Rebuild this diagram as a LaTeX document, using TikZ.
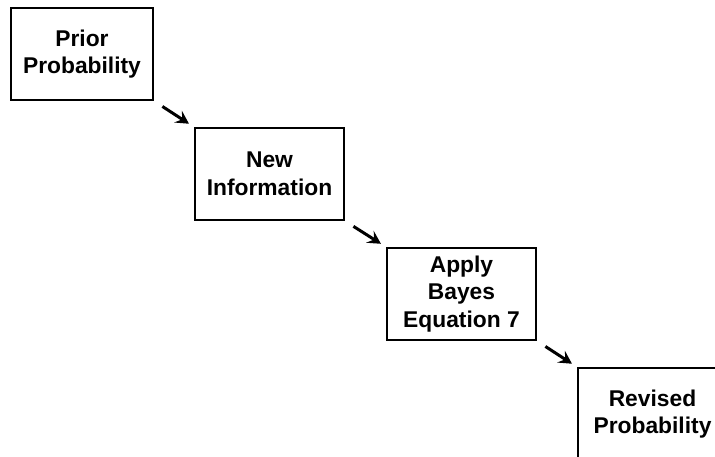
\documentclass[tikz,border=0pt]{standalone}
\usepackage{fontspec}
\setmainfont{Liberation Sans}
\usetikzlibrary{arrows.meta}

\begin{document}
\begin{tikzpicture}[
    x=1pt, y=-1pt,
    >={Stealth[length=13pt, width=14pt, inset=5pt]},
    every node/.style={font=\bfseries\fontsize{22.8}{27.5}\selectfont},
    box/.style={
        draw,
        line width=2pt,
        align=center,
        inner sep=2pt,
        minimum height=92pt
    },
    flow/.style={->, line width=3pt, shorten <=10pt, shorten >=6pt}
]

    % picture frame (the last box runs off the edge)
    \clip (0,0) rectangle (715,457);

    % steps
    \node[box, minimum width=142pt] (prior) at (82,54)
        {Prior\\ Probability};
    \node[box, minimum width=149pt] (newinfo) at (269.5,174)
        {New\\ Information};
    \node[box, minimum width=149pt] (bayes) at (461.5,294)
        {Apply\\ Bayes\\ Equation 7};
    \node[box, minimum width=149pt] (revised) at (652.5,414)
        {Revised\\ Probability};

    % arrows
    \draw[flow] (prior.south east) -- (newinfo.north west);
    \draw[flow] (newinfo.south east) -- (bayes.north west);
    \draw[flow] (bayes.south east) -- (revised.north west);

\end{tikzpicture}
\end{document}
